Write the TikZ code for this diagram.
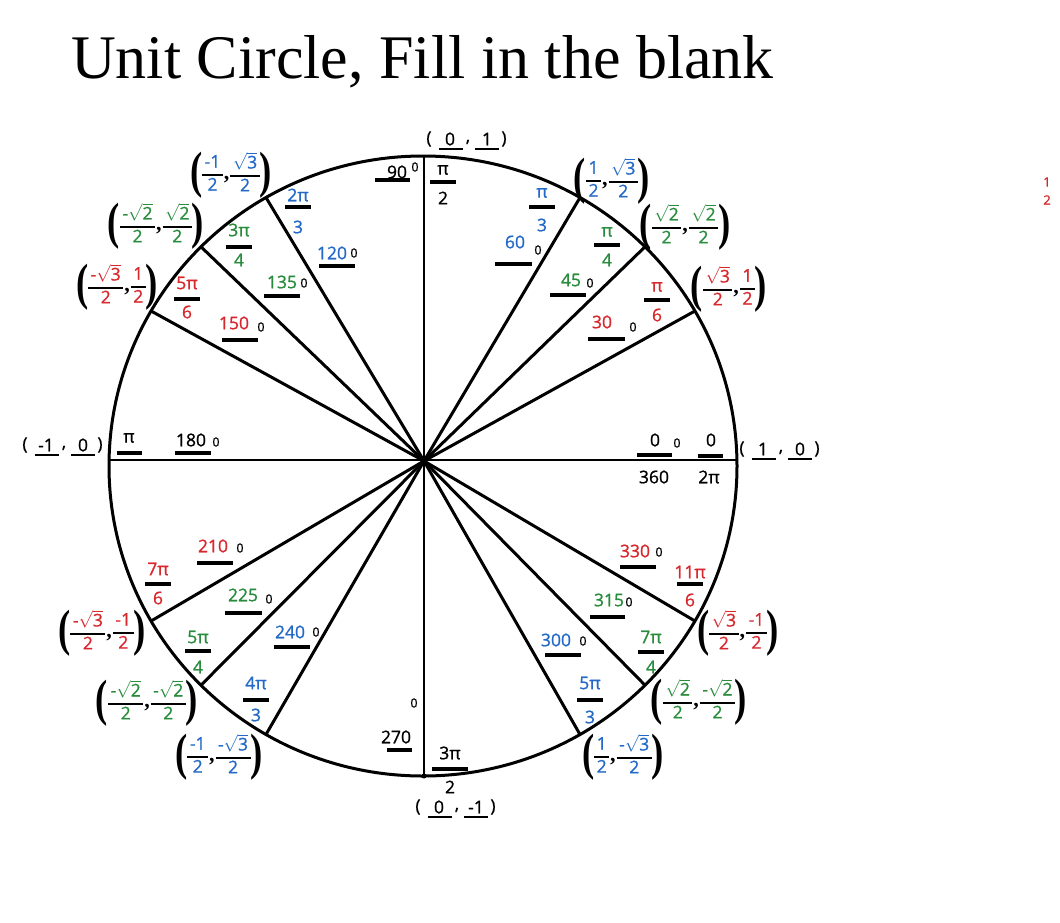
\documentclass[tikz,border=0pt]{standalone}
\usepackage{fontspec}
\setmainfont{Liberation Serif}
\newfontfamily\hand[FakeBold=1]{Open Sans}
\usepackage{graphicx}
\definecolor{ublue}{RGB}{35,105,200}
\definecolor{ugreen}{RGB}{40,140,60}
\definecolor{ured}{RGB}{215,40,45}
\newcommand\labfont{\hand\fontsize{17.5}{19}\selectfont}
\newcommand\degfont{\hand\fontsize{12.5}{14}\selectfont}
\tikzset{
  lab/.style={font=\labfont, inner sep=0pt},
  degz/.style={font=\degfont, inner sep=0pt},
  fbar/.style={line width=3.5pt},
  blankline/.style={line width=3.5pt},
  thinblank/.style={line width=1.2pt},
  pair/.style={inner sep=0pt, font=\labfont},
  axisline/.style={line width=2.6pt},
  spoke/.style={line width=3pt},
  rim/.style={line width=3pt},
}
% root
\newcommand\rt[1]{$\sqrt{\hbox{#1}}$}
% big parentheses and comma
\newcommand\LP{\raisebox{-8pt}{\scalebox{0.72}[1]{\fontsize{51}{51}\selectfont\rmfamily\bfseries(}}}
\newcommand\RP{\raisebox{-8pt}{\scalebox{0.72}[1]{\fontsize{51}{51}\selectfont\rmfamily\bfseries)}}}
\newcommand\CM{\hspace{1pt}{\rmfamily\bfseries\fontsize{22}{22}\selectfont,}\hspace{1pt}}
% inline fraction for coordinate pairs
\newcommand\cf[3]{{\setlength\arrayrulewidth{2pt}\renewcommand\arraystretch{1.1}%
  \begin{tabular}{@{\hspace{2.5pt}}c@{\hspace{2.5pt}}}\textcolor{#1}{#2}\\\hline\textcolor{#1}{#3}\end{tabular}}}
% coordinate pair node: name, x, y, colour, n1, d1, n2, d2
\newcommand\cp[8]{\node[pair] (#1) at (#2,#3) {\LP\cf{#4}{#5}{#6}\CM\cf{#4}{#7}{#8}\RP};}
% angle fraction: name, x, numy, bary, deny, colour, num, den, halfwidth
\newcommand\af[9]{%
  \node[lab,text=#6] (#1n) at (#2,#3) {#7};
  \coordinate (#1a) at (#2-#9,#4);
  \coordinate (#1b) at (#2+#9,#4);
  \draw[fbar] (#1a) -- (#1b);
  \node[lab,text=#6] (#1d) at (#2,#5) {#8};}
% degree label: name, colour, text, tx, ty, ux1, ux2, uy, o-position
\newcommand\dg[9]{%
  \node[lab,text=#2] (#1t) at (#4,#5) {#3};
  \coordinate (#1a) at (#6,#8);
  \coordinate (#1b) at (#7,#8);
  \draw[blankline] (#1a) -- (#1b);
  \node[degz] (#1o) at (#9) {0};}
% axis point label: name, x, y, a, b
\newcommand\axp[5]{%
  \node[lab] (#1l) at (#2,#3) {(};
  \node[lab] (#1a) at (#2+21,#3) {#4};
  \node[lab] (#1c) at (#2+39,#3+3) {,};
  \node[lab] (#1b) at (#2+58,#3) {#5};
  \node[lab] (#1r) at (#2+75,#3) {)};
  \coordinate (#1p) at (#2+10,#3+10);
  \coordinate (#1q) at (#2+34,#3+10);
  \coordinate (#1s) at (#2+46,#3+10);
  \coordinate (#1t) at (#2+70,#3+10);
  \draw[thinblank] (#1p) -- (#1q);
  \draw[thinblank] (#1s) -- (#1t);}

\begin{document}
\begin{tikzpicture}[x=1pt,y=-1pt]
\useasboundingbox (0,0) rectangle (1060,922);

% title
\node[anchor=base west, inner sep=0pt, font=\fontsize{62}{70}\selectfont] (title) at (71,78) {Unit Circle, Fill in the blank};

% circle and centre
\coordinate (C) at (423,466);
\coordinate (O) at (424,461);
\draw[rim] (C) ellipse [x radius=314pt, y radius=310pt];

% axes
\coordinate (Ax0) at (737,460);
\coordinate (Ax180) at (109,460);
\coordinate (Ax90) at (424,156);
\coordinate (Ax270) at (424,776);
\draw[axisline] (Ax180) -- (Ax0);
\draw[axisline] (Ax90) -- (Ax270);
\fill (Ax270) circle [radius=2.5pt];

% spokes
\foreach \a in {30,45,60,120,135,150,210,225,240,300,315,330}{
  \coordinate (E\a) at ({423+314*cos(\a)},{466-310*sin(\a)});
  \draw[spoke] (O) -- (E\a);
}

% coordinate pairs
\cp{P60}{612}{181}{ublue}{1}{2}{\rt{3}}{2}
\cp{P45}{685}{227}{ugreen}{\rt{2}}{2}{\rt{2}}{2}
\cp{P30}{729}{289}{ured}{\rt{3}}{2}{1}{2}
\cp{P120}{231}{175}{ublue}{-1}{2}{\rt{3}}{2}
\cp{P135}{156}{226}{ugreen}{-\rt{2}}{2}{\rt{2}}{2}
\cp{P150}{117}{287}{ured}{-\rt{3}}{2}{1}{2}
\cp{P210}{102}{633}{ured}{-\rt{3}}{2}{-1}{2}
\cp{P225}{147}{703}{ugreen}{-\rt{2}}{2}{-\rt{2}}{2}
\cp{P240}{219}{757}{ublue}{-1}{2}{-\rt{3}}{2}
\cp{P300}{623}{757}{ublue}{1}{2}{-\rt{3}}{2}
\cp{P315}{699}{702}{ugreen}{\rt{2}}{2}{-\rt{2}}{2}
\cp{P330}{738}{633}{ured}{\rt{3}}{2}{-1}{2}

% axis points
\axp{A90}{429}{139}{0}{1}
\axp{A0}{742}{449}{1}{0}
\axp{A180}{25}{445}{-1}{0}
\axp{A270}{418}{807}{0}{-1}

% radian fractions
\af{R90}{443}{170}{182}{198}{black}{π}{2}{13}
\af{R60}{542}{193}{207}{225}{ublue}{π}{3}{13}
\af{R45}{607}{232}{245}{260}{ugreen}{π}{4}{13}
\af{R30}{657}{287}{300}{315}{ured}{π}{6}{13}
\af{R120}{298}{195}{207}{227}{ublue}{2π}{3}{13}
\af{R135}{239}{230}{247}{260}{ugreen}{3π}{4}{13}
\af{R150}{187}{283}{299}{312}{ured}{5π}{6}{13}
\af{R210}{158}{569}{584}{598}{ured}{7π}{6}{13}
\af{R225}{198}{637}{651}{667}{ugreen}{5π}{4}{13}
\af{R240}{256}{683}{700}{715}{ublue}{4π}{3}{13}
\af{R270}{450}{753}{769}{787}{black}{3π}{2}{18}
\af{R300}{590}{683}{700}{717}{ublue}{5π}{3}{13}
\af{R315}{651}{637}{652}{667}{ugreen}{7π}{4}{13}
\af{R330}{690}{572}{584}{600}{ured}{11π}{6}{13}

% pi at 180 and 0 / 2pi at 0
\node[lab] (R180n) at (129,438) {π};
\coordinate (R180a) at (117,453);
\coordinate (R180b) at (142,453);
\draw[fbar] (R180a) -- (R180b);
\node[lab] (R0n) at (711,440) {0};
\coordinate (R0a) at (698,456);
\coordinate (R0b) at (723,456);
\draw[fbar] (R0a) -- (R0b);
\node[lab] (R0d) at (709,477) {2π};

% degree labels
\dg{D90}{black}{90}{397}{172}{375}{410}{180}{415,167}
\dg{D120}{ublue}{120}{332}{253}{319}{355}{266}{354,253}
\dg{D135}{ugreen}{135}{282}{282}{264}{300}{296}{304,283}
\dg{D60}{ublue}{60}{515}{242}{495}{532}{264}{538,250}
\dg{D45}{ugreen}{45}{571}{280}{550}{586}{295}{590,283}
\dg{D30}{ured}{30}{602}{322}{588}{625}{339}{633,327}
\dg{D150}{ured}{150}{234}{323}{222}{258}{340}{261,327}
\dg{D180}{black}{180}{191}{440}{175}{211}{453}{216,442}
\dg{D0}{black}{0}{655}{440}{637}{672}{455}{677,443}
\dg{D210}{ured}{210}{213}{546}{197}{233}{563}{240,548}
\dg{D225}{ugreen}{225}{243}{595}{225}{262}{613}{269,599}
\dg{D240}{ublue}{240}{290}{632}{274}{310}{647}{316,632}
\dg{D270}{black}{270}{396}{737}{387}{412}{750}{414,703}
\dg{D300}{ublue}{300}{556}{640}{545}{581}{655}{583,641}
\dg{D315}{ugreen}{315}{609}{600}{590}{625}{617}{629,602}
\dg{D330}{ured}{330}{635}{551}{620}{656}{567}{659,552}
\node[lab] (D360) at (654,477) {360};

% stray red 1/2 at the right edge
\node[inner sep=0pt, font=\hand\fontsize{13}{15}\selectfont, text=ured] (S1) at (1047,182) {1};
\node[inner sep=0pt, font=\hand\fontsize{13}{15}\selectfont, text=ured] (S2) at (1047,200) {2};
\end{tikzpicture}
\end{document}
